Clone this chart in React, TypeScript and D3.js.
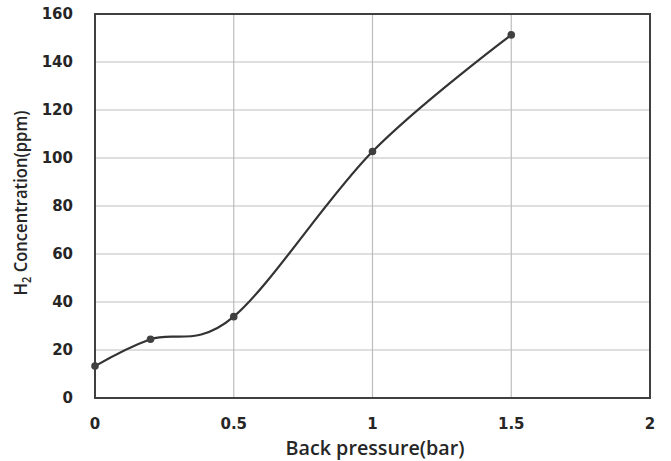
import React, { useEffect, useRef } from 'react';
import * as d3 from 'd3';

const pressure = [0, 0.2, 0.5, 1.0, 1.5];
const h2ppm = [13.3, 24.5, 33.9, 102.7, 151.3];
const xTicks = [0, 0.5, 1, 1.5, 2];
const yTicks = [0, 20, 40, 60, 80, 100, 120, 140, 160];

const App = () => {
  const ref = useRef<SVGSVGElement>(null);

  useEffect(() => {
    const svg = d3.select(ref.current);
    svg.selectAll('*').remove();

    const x = d3.scaleLinear().domain([0, 2]).range([95, 650]);
    const y = d3.scaleLinear().domain([0, 160]).range([398, 14]);
    const tickFont = '"DejaVu Sans", Verdana, sans-serif';
    const titleFont = '"Open Sans", "DejaVu Sans", sans-serif';
    const textColor = '#262626';

    // grid
    svg.append('g')
      .selectAll('line')
      .data(yTicks.filter(d => d > 0 && d < 160))
      .join('line')
      .attr('x1', x(0)).attr('x2', x(2))
      .attr('y1', d => y(d)).attr('y2', d => y(d))
      .attr('stroke', '#bdbdbd').attr('stroke-width', 1.2);

    svg.append('g')
      .selectAll('line')
      .data(xTicks.filter(d => d > 0 && d < 2))
      .join('line')
      .attr('x1', d => x(d)).attr('x2', d => x(d))
      .attr('y1', y(0)).attr('y2', y(160))
      .attr('stroke', '#bdbdbd').attr('stroke-width', 1.2);

    // frame
    svg.append('rect')
      .attr('x', x(0)).attr('y', y(160))
      .attr('width', x(2) - x(0)).attr('height', y(0) - y(160))
      .attr('fill', 'none').attr('stroke', '#404040').attr('stroke-width', 2);

    // tick labels
    svg.append('g')
      .selectAll('text')
      .data(yTicks)
      .join('text')
      .attr('x', 73).attr('y', d => y(d))
      .attr('dy', '0.36em')
      .attr('text-anchor', 'end')
      .attr('font-family', tickFont).attr('font-size', 15).attr('font-weight', 'bold')
      .attr('fill', textColor)
      .text(d => d);

    svg.append('g')
      .selectAll('text')
      .data(xTicks)
      .join('text')
      .attr('x', d => x(d)).attr('y', 429)
      .attr('text-anchor', 'middle')
      .attr('font-family', tickFont).attr('font-size', 15).attr('font-weight', 'bold')
      .attr('fill', textColor)
      .text(d => d);

    // axis titles
    svg.append('text')
      .attr('x', 375).attr('y', 455)
      .attr('text-anchor', 'middle')
      .attr('font-family', titleFont).attr('font-size', 19).attr('font-weight', 600)
      .attr('fill', textColor)
      .attr('textLength', 179).attr('lengthAdjust', 'spacingAndGlyphs')
      .text('Back pressure(bar)');

    const yt = svg.append('text')
      .attr('transform', 'translate(27,203) rotate(-90)')
      .attr('text-anchor', 'middle')
      .attr('font-family', titleFont).attr('font-size', 18).attr('font-weight', 600)
      .attr('fill', textColor)
      .attr('textLength', 185).attr('lengthAdjust', 'spacingAndGlyphs');
    yt.append('tspan').text('H');
    yt.append('tspan').attr('font-size', 12).attr('dy', 4).text('2');
    yt.append('tspan').attr('dy', -4).text(' Concentration(ppm)');

    // line
    const pts = pressure.map((p, i) => [p, h2ppm[i]] as [number, number]);
    const line = d3.line<[number, number]>()
      .x(d => x(d[0]))
      .y(d => y(d[1]))
      .curve(d3.curveCardinal.tension(0));

    svg.append('path')
      .datum(pts)
      .attr('fill', 'none')
      .attr('stroke', '#333333')
      .attr('stroke-width', 2.2)
      .attr('d', line);

    svg.append('g')
      .selectAll('circle')
      .data(pts)
      .join('circle')
      .attr('cx', d => x(d[0])).attr('cy', d => y(d[1]))
      .attr('r', 3.8)
      .attr('fill', '#404040');
  }, []);

  return (
    <svg ref={ref} width={671} height={461} style={{ position: 'absolute', left: 0, top: 0 }} />
  );
};

export default App;
